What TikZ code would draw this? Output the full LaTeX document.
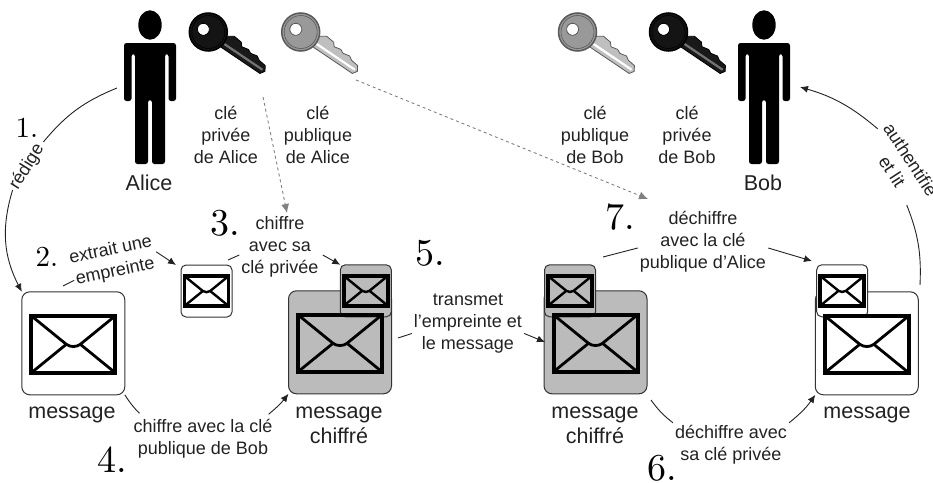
\documentclass[tikz,border=0pt]{standalone}
\usepackage{fontspec}
\setsansfont{Liberation Sans}
\newfontface\numface{lmroman10-regular.otf}
\usetikzlibrary{arrows.meta}

\definecolor{cipher}{HTML}{BBBBBB}
\definecolor{txt}{HTML}{222222}

\newcommand{\personicon}[1]{
\begin{scope}[shift={(#1,0)}]
\fill (0,25) ellipse (11.7 and 14.7);
\fill[rounded corners=2.5] (-26,43) -- (26,43) -- (26,101) -- (18.5,101) -- (18.5,54) -- (15,54) -- (15,164) -- (2,164) -- (2,100) -- (-2,100) -- (-2,164) -- (-15,164) -- (-15,54) -- (-18.5,54) -- (-18.5,101) -- (-26,101) -- cycle;
\end{scope}
}
% #1 x of the head, #2 head, #3 outline, #4 blade, #5 stripe
\newcommand{\keyicon}[5]{
\begin{scope}[shift={(#1,32)},rotate=-34]
\filldraw[fill=#4,draw=#3,line width=0.8] (15,5.5) -- (66,5.5) -- (69,1) -- (66,-4) -- (58,-5) -- (54,-7.5) -- (47,-6) -- (43,-8) -- (36,-6.5) -- (33,-10) -- (24,-11) -- (18,-7) -- cycle;
\draw[#5,line width=2.2] (20,1) -- (66,1);
\filldraw[fill=#2,draw=#3,line width=1.5] (0,0) circle (19);
\draw[#3,line width=0.6] (0,0) circle (16.5);
\filldraw[fill=white,draw=#3,line width=0.8] (-5.6,0.5) circle (6);
\end{scope}
}

\tikzset{
  lbl/.style={font=\sffamily\fontsize{18}{22}\selectfont,text=txt,align=center,inner sep=2pt},
  bigcap/.style={font=\sffamily\fontsize{21.5}{25}\selectfont,text=txt,align=center,inner sep=0pt},
  num/.style={font=\numface\fontsize{29}{29}\selectfont,inner sep=0pt},
  bignum/.style={font=\numface\fontsize{38}{38}\selectfont,inner sep=0pt},
  bigbox/.style={draw=black!80,line width=1,rounded corners=8,minimum width=103,minimum height=103,inner sep=0,outer sep=0},
  smallbox/.style={draw=black!80,line width=1,rounded corners=5,minimum width=51,minimum height=52,inner sep=0,outer sep=0},
  link/.style={draw=txt,line width=0.9},
  arrow/.style={link,-{Latex[length=8,width=7]}},
  keylink/.style={draw=gray,line width=0.9,dashed,-{Latex[length=9,width=8]}},
  pics/envelope/.style args={#1/#2}{code={
    \draw[line width=#1] (-42,-28.5) rectangle (42,28.5);
    \draw[line width=#2] (-42,-28.5) -- (-7,0) .. controls (-3,3) and (3,3) .. (7,0) -- (42,-28.5);
    \draw[line width=#2] (-42,28.5) -- (-7,0);
    \draw[line width=#2] (42,28.5) -- (7,0);
  }},
}

\begin{document}
\begin{tikzpicture}[x=1pt,y=-1pt]
\useasboundingbox (0,0) rectangle (933,482);

% people and keys
\personicon{150}
\personicon{764}
\keyicon{208.3}{black!92}{black}{black!90}{black!55}
\keyicon{300.7}{black!40}{black!65}{black!25}{white}
\keyicon{577.5}{black!40}{black!65}{black!25}{white}
\keyicon{668.5}{black!92}{black}{black!90}{black!55}

\node[bigcap] (alice) at (149,183) {Alice};
\node[bigcap] (bob) at (763,183) {Bob};
\node[lbl] (prvA) at (226,135) {clé\\privée\\de Alice};
\node[lbl] (pubA) at (318,135) {clé\\publique\\de Alice};
\node[lbl] (pubB) at (595,135) {clé\\publique\\de Bob};
\node[lbl] (prvB) at (687,135) {clé\\privée\\de Bob};

% message boxes
\node[bigbox,fill=white] (boxA) at (73.3,343.3) {};
\node[smallbox,fill=white] (tagA) at (206.5,291) {};
\node[bigbox,fill=cipher] (boxB) at (340,342.3) {};
\node[smallbox,fill=cipher] (tagB) at (365.8,290.8) {};
\node[bigbox,fill=cipher] (boxC) at (595.5,342.3) {};
\node[smallbox,fill=cipher] (tagC) at (570,290.8) {};
\node[bigbox,fill=white] (boxD) at (866.8,343.3) {};
\node[smallbox,fill=white] (tagD) at (842.2,290.8) {};

\foreach \b in {boxA,boxB,boxC,boxD} {
\pic at ([yshift=-1]\b) {envelope=4/2.8};
}
\foreach \t in {tagA,tagB,tagC,tagD} {
\pic[scale=0.525] at (\t) {envelope=3.6/2.4};
}

\node[bigcap] (msgA) at (72,415) {message};
\node[bigcap] (msgB) at (339,425.5) {message\\chiffré};
\node[bigcap] (msgC) at (595,425.5) {message\\chiffré};
\node[bigcap] (msgD) at (867,415) {message};

% step labels
\node[lbl,rotate=58] (redige) at (27,167) {rédige};
\node[lbl,rotate=12] (extrait) at (113,261) {extrait une\\empreinte};
\node[lbl] (chiffreA) at (280,247) {chiffre\\avec sa\\clé privée};
\node[lbl] (chiffreB) at (203,439) {chiffre avec la clé\\publique de Bob};
\node[lbl] (transmet) at (468,323.5) {transmet\\l'empreinte et\\le message};
\node[lbl] (dechiffreA) at (731,444.5) {déchiffre avec\\sa clé privée};
\node[lbl] (dechiffreB) at (703,242) {déchiffre\\avec la clé\\publique d'Alice};
\node[lbl,rotate=-57] (lit) at (901.5,165.5) {authentifie\\et lit};

\node[num] (n1) at (27,128) {1.};
\node[num] (n2) at (47,257) {2.};
\node[bignum] (n3) at (225,223) {3.};
\node[bignum] (n4) at (112,460) {4.};
\node[bignum] (n5) at (430,253) {5.};
\node[bignum] (n6) at (662,468) {6.};
\node[bignum] (n7) at (620,217) {7.};

% free ends
\coordinate (aliceR) at (117,88);
\coordinate (bobR) at (800,87);
\coordinate (keyA) at (263,97);
\coordinate (keyA2) at (287,213);
\coordinate (keyB) at (356,80);
\coordinate (keyB2) at (648,199);
\coordinate (boxAtop) at (63,286);
\coordinate (boxDtop) at (920,285);
\coordinate (boxBside) at (398,338);
\coordinate (boxCside) at (545,342);
\coordinate (tagCtop) at (603,257);
\coordinate (tagDtop) at (812,261);
\coordinate (boxCbot) at (651,400);

% connectors
\draw[link] (aliceR) to[bend right=14] ([xshift=2,yshift=2]redige.east);
\draw[arrow] (redige.west) to[bend right=22] (boxA.north west);
\draw[link] (boxAtop) -- ([xshift=0,yshift=11]extrait.south west);
\draw[arrow] (extrait.east) -- ([xshift=-5]tagA.north west);
\draw[link] ([xshift=-4,yshift=5]tagA.north east) -- ([yshift=-8]chiffreA.west);
\draw[arrow] ([xshift=2,yshift=-8]chiffreA.east) -- (tagB.north west);
\draw[link] (boxA.south east) to[bend right=6] ([xshift=8,yshift=4]chiffreB.north west);
\draw[arrow] ([xshift=-6,yshift=3]chiffreB.north east) to[bend right=6] (boxB.south west);
\draw[link] (boxBside) -- ([yshift=-10]transmet.west);
\draw[arrow] ([yshift=-10]transmet.east) -- (boxCside);
\draw[link] (boxCbot) to[bend right=8] (dechiffreA.north west);
\draw[arrow] (dechiffreA.north east) to[bend right=8] (boxD.south west);
\draw[link] (tagCtop) -- ([yshift=-6]dechiffreB.west);
\draw[arrow] ([yshift=-6]dechiffreB.east) -- (tagDtop);
\draw[link] (boxDtop) to[bend right=12] ([xshift=-2,yshift=8]lit.south east);
\draw[arrow] (lit.west) to[bend right=12] (bobR);

\draw[keylink] (keyA) -- (keyA2);
\draw[keylink] (keyB) -- (keyB2);
\end{tikzpicture}
\end{document}
